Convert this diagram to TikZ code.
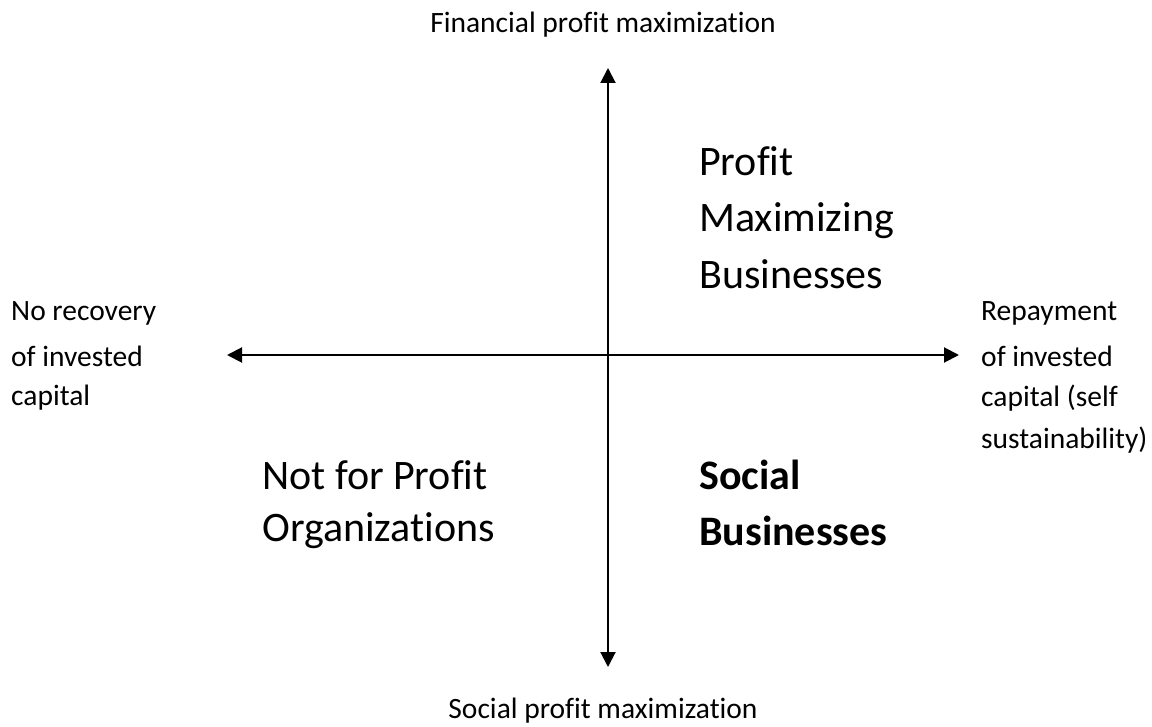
\documentclass[tikz,border=0pt]{standalone}
\usepackage{fontspec}
\setmainfont{Carlito}[Ligatures={NoCommon}]
\usetikzlibrary{arrows.meta}
\begin{document}
\begin{tikzpicture}[x=1pt,y=-1pt,
  small/.style={font=\fontsize{29.5}{35}\selectfont,inner sep=0pt,anchor=west},
  big/.style={font=\fontsize{42}{50}\selectfont,inner sep=0pt,anchor=west},
  bigb/.style={font=\fontsize{42}{50}\selectfont\bfseries,inner sep=0pt,anchor=west},
  axis/.style={line width=2pt,{Triangle[length=15pt,width=15pt]}-{Triangle[length=15pt,width=15pt]}}]
\useasboundingbox (0,0) rectangle (1152,727);
\coordinate (top) at (608,68);
\coordinate (bot) at (608,667);
\coordinate (lft) at (227,355);
\coordinate (rgt) at (959,355);
\draw[axis] (bot) -- (top);
\draw[axis] (lft) -- (rgt);
\node[small,anchor=center] (tt) at (603,25) {Financial profit maximization};
\node[small,anchor=center] (bt) at (603,711) {Social profit maximization};
\node[small] (l1) at (11,313) {No recovery};
\node[small] (l2) at (11,356) {of invested};
\node[small] (l3) at (11,398) {capital};
\node[small] (r1) at (981,313) {Repayment};
\node[small] (r2) at (981,356) {of invested};
\node[small] (r3) at (981,398) {capital (self};
\node[small] (r4) at (981,440) {sustainability)};
\node[big] (p1) at (699,161) {Profit};
\node[big] (p2) at (699,221) {Maximizing};
\node[big] (p3) at (699,274) {Businesses};
\node[big] (n1) at (262,475) {Not for Profit};
\node[big] (n2) at (262,531) {Organizations};
\node[bigb] (s1) at (699,475) {Social};
\node[bigb] (s2) at (699,531) {Businesses};
\end{tikzpicture}
\end{document}
